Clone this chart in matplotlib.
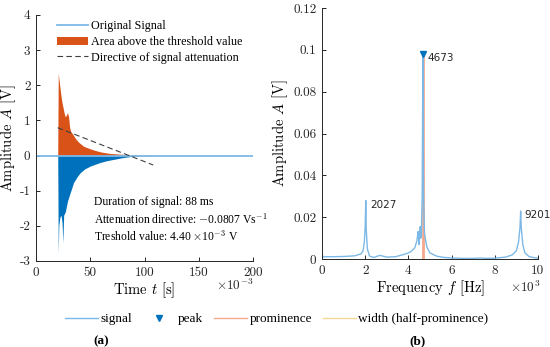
import matplotlib
matplotlib.use("Agg")
import matplotlib.pyplot as plt
from matplotlib.lines import Line2D
from matplotlib.patches import Patch

# signal envelope (time in ms, amplitude in V)
t_up = [20, 20.5, 21, 22, 23, 24, 25, 26, 27, 28, 29, 30, 31, 32, 33, 34, 35,
        36, 38, 40, 44, 50, 55, 60, 68, 75, 81, 88, 95, 102, 108]
v_up = [0, 2.35, 2.2, 1.95, 1.7, 1.5, 1.35, 1.2, 1.1, 1.15, 1.22, 1.1, 0.8,
        0.68, 0.64, 0.6, 0.55, 0.5, 0.42, 0.36, 0.26, 0.19, 0.14, 0.1, 0.06,
        0.045, 0.03, 0.02, 0.012, 0.008, 0.005]
t_lo = [20, 20.5, 21, 22, 23, 24, 24.7, 25.5, 27, 29, 31.5, 34.6, 38, 40.7,
        45, 50, 59, 65, 71.6, 80, 87, 95, 108]
v_lo = [0, -2.8, -2.0, -1.75, -1.7, -1.9, -2.48, -1.7, -1.6, -1.3, -1.06,
        -0.77, -0.6, -0.49, -0.38, -0.3, -0.2, -0.15, -0.11, -0.06, -0.03,
        -0.01, -0.003]
att_t = [20, 108]
att_v = [0.79, -0.27]

# spectrum (frequency in kHz, amplitude in V)
freq = [0, 0.05, 0.1, 0.5, 1.0, 1.5, 1.8, 1.9, 1.96, 2.0, 2.027, 2.05, 2.1,
        2.2, 2.4, 2.6, 2.7, 2.85, 3.0, 3.4, 3.7, 3.9, 4.1, 4.3, 4.4, 4.45,
        4.47, 4.49, 4.52, 4.55, 4.57, 4.6, 4.64, 4.673, 4.70, 4.75, 4.85, 5.0,
        5.3, 5.6, 6.0, 6.5, 7.0, 7.4, 7.5, 8.0, 8.5, 8.8, 9.0, 9.1, 9.17,
        9.201, 9.23, 9.3, 9.4, 9.6, 9.8, 10]
amp = [0.0025, 0.001, 0.0012, 0.0012, 0.0013, 0.0016, 0.0025, 0.004, 0.008,
       0.016, 0.028, 0.014, 0.005, 0.0015, 0.0008, 0.0016, 0.0018, 0.0014,
       0.001, 0.0012, 0.002, 0.0026, 0.0035, 0.0055, 0.009, 0.0132, 0.011,
       0.007, 0.012, 0.0156, 0.010, 0.012, 0.03, 0.097, 0.03, 0.012, 0.006,
       0.003, 0.0015, 0.0009, 0.0006, 0.0004, 0.0004, 0.0006, 0.0004, 0.0005,
       0.001, 0.002, 0.004, 0.008, 0.015, 0.023, 0.015, 0.007, 0.003, 0.0012,
       0.0008, 0.0005]
peak_f = [2.027, 4.673, 9.201]
peak_a = [0.028, 0.098, 0.023]
peak_lbl = ["2027", "4673", "9201"]
main_f = 4.673
main_a = 0.098

info = ["Duration of signal: 88 ms",
        r"Attenuation directive: $-$0.0807 Vs$^{-1}$",
        r"Treshold value: 4.40 $\times$10$^{-3}$ V"]

blue = "#0072BD"
lblue = "#7DB9E6"
orange = "#D95319"
salmon = "#F4A98C"
yellow = "#F6D79A"
grey = "#262626"

plt.rcParams["mathtext.fontset"] = "cm"
plt.rcParams["axes.unicode_minus"] = False
serif = "Liberation Serif"

fig = plt.figure(figsize=(5.5, 3.47), dpi=100)
ax1 = fig.add_axes([0.0655, 0.248, 0.3945, 0.709])
ax2 = fig.add_axes([0.5855, 0.253, 0.3925, 0.724])

for ax in (ax1, ax2):
    for s in ("top", "right"):
        ax.spines[s].set_visible(False)
    for s in ("left", "bottom"):
        ax.spines[s].set_color(grey)
        ax.spines[s].set_linewidth(0.7)
    ax.tick_params(direction="in", length=3, width=0.7, colors=grey,
                   labelsize=9.5, pad=4)

# (a) time signal
ax1.fill_between(t_lo, v_lo, 0, color=blue, lw=0)
ax1.fill_between(t_up, v_up, 0, color=orange, lw=0)
ax1.plot([0, 200], [0, 0], color=lblue, lw=1.3)
ax1.plot(att_t, att_v, color="#404040", lw=0.8, dashes=(5, 3))
ax1.set_xlim(0, 200)
ax1.set_ylim(-3, 4)
ax1.set_xticks([0, 50, 100, 150, 200])
ax1.set_xticklabels(["0", "50", "100", "150", "200"], family="cmr10")
ax1.set_yticks([-3, -2, -1, 0, 1, 2, 3, 4])
ax1.set_yticklabels(["-3", "-2", "-1", "0", "1", "2", "3", "4"], family="cmr10")
ax1.set_xlabel(r"Time $t$ [s]", family="cmr10", fontsize=10.5, labelpad=1)
ax1.set_ylabel(r"Amplitude $A$ [V]", family="cmr10", fontsize=10.5, labelpad=1)
ax1.text(1.0, -0.1, r"$\times10^{-3}$", transform=ax1.transAxes,
         ha="right", va="center", fontsize=9.5, color=grey)
for i, s in enumerate(info):
    ax1.text(0.265, 0.239 - i * 0.069, s, transform=ax1.transAxes,
             family=serif, fontsize=8.4, va="center")

h1 = [Line2D([], [], color=lblue, lw=1.3),
      Patch(color=orange, lw=0),
      Line2D([], [], color="#404040", lw=0.8, dashes=(5, 3))]
ax1.legend(h1, ["Original Signal", "Area above the threshold value",
                "Directive of signal attenuation"],
           loc="upper left", bbox_to_anchor=(0.057, 1.012), frameon=False,
           prop={"family": serif, "size": 8.7}, handlelength=2.6,
           handletextpad=0.2, labelspacing=0.3, borderaxespad=0.3)

# (b) spectrum
ax2.plot([main_f, main_f], [0, main_a], color=salmon, lw=2)
ax2.plot(freq, amp, color=lblue, lw=1.0)
ax2.plot([main_f], [main_a], "v", color=blue, ms=5)
for f, a, s in zip(peak_f, peak_a, peak_lbl):
    ax2.annotate(s, (f, a), xytext=(3, -3), textcoords="offset points",
                 fontsize=7.5, family="DejaVu Sans", va="center", color=grey)
ax2.set_xlim(0, 10)
ax2.set_ylim(0, 0.12)
ax2.set_xticks([0, 2, 4, 6, 8, 10])
ax2.set_xticklabels(["0", "2", "4", "6", "8", "10"], family="cmr10")
ax2.set_yticks([0, 0.02, 0.04, 0.06, 0.08, 0.1, 0.12])
ax2.set_yticklabels(["0", "0.02", "0.04", "0.06", "0.08", "0.1", "0.12"],
                    family="cmr10")
ax2.set_xlabel(r"Frequency $f$ [Hz]", family="cmr10", fontsize=10.5, labelpad=1)
ax2.set_ylabel(r"Amplitude $A$ [V]", family="cmr10", fontsize=10.5, labelpad=2)
ax2.text(1.01, -0.11, r"$\times10^{3}$", transform=ax2.transAxes,
         ha="right", va="center", fontsize=9.5, color=grey)

h2 = [Line2D([], [], color=lblue, lw=1.0),
      Line2D([], [], color=blue, ls="none", marker="v", ms=5),
      Line2D([], [], color=salmon, lw=1.0),
      Line2D([], [], color=yellow, lw=1.0)]
fig.legend(h2, ["signal", "peak", "prominence", "width (half-prominence)"],
           loc="center", bbox_to_anchor=(276.5 / 550, 1 - 319 / 347), ncol=4,
           frameon=False, prop={"family": serif, "size": 9.5},
           handlelength=2.5, handletextpad=0.2, columnspacing=0.8)

fig.text(101 / 550, 1 - 341 / 347, "(a)", ha="center", va="center",
         family=serif, fontsize=9.5, fontweight="bold")
fig.text(417 / 550, 1 - 341 / 347, "(b)", ha="center", va="center",
         family=serif, fontsize=9.5, fontweight="bold")

fig.savefig("out.png", dpi=100)
